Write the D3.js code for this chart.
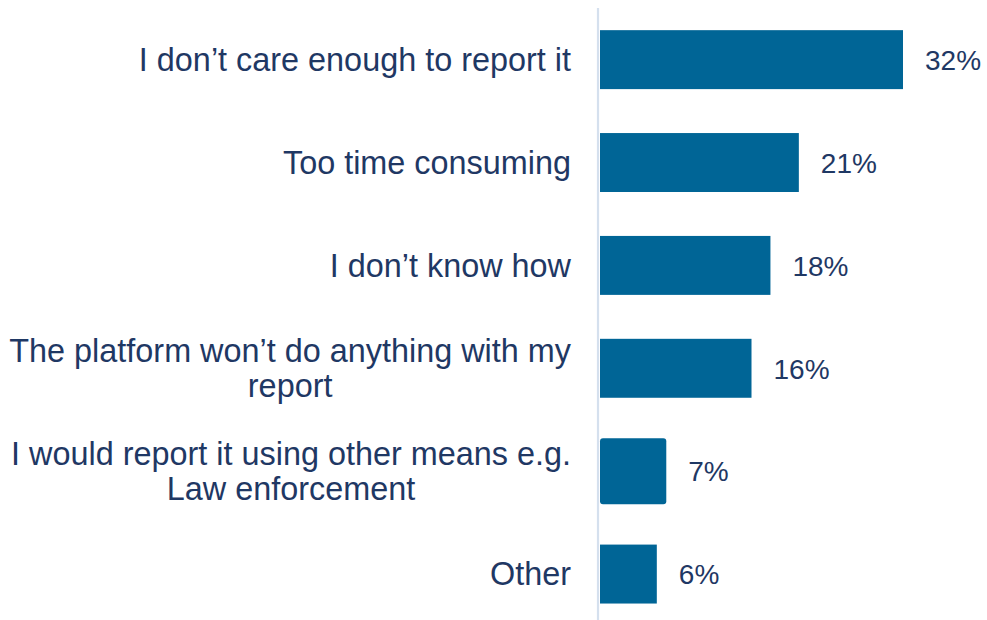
<!DOCTYPE html>
<html>
<head>
<meta charset="utf-8">
<script src="https://cdn.jsdelivr.net/npm/d3@7"></script>
<style>
  html, body { margin: 0; padding: 0; background: #ffffff; }
  svg { display: block; }
  text { font-family: "Liberation Sans", Arial, Helvetica, sans-serif; }
</style>
</head>
<body>
<svg id="chart" width="987" height="620"></svg>
<script>
// Reasons for not reporting (share of respondents, %)
const categories = [
  "I don\u2019t care enough to report it",
  "Too time consuming",
  "I don\u2019t know how",
  "The platform won\u2019t do anything with my report",
  "I would report it using other means e.g. Law enforcement",
  "Other"
];
const values = [32, 21, 18, 16, 7, 6];
const highlighted = ["I would report it using other means e.g. Law enforcement"];

const W = 987, H = 620;
const axisX = 598;          // vertical baseline of the bars
const labelRight = 571;     // right edge of category label blocks
const labelWrap = 572;      // max width of a category label line

const barColor = "#006596";
const textColor = "#1f3864";
const axisColor = "#d5e0ee";

const svg = d3.select("#chart");

const y = d3.scaleBand()
  .domain(categories)
  .range([8.2, 625.5])
  .paddingInner(0.427)
  .paddingOuter(0.2135);

const x = d3.scaleLinear()
  .domain([0, 32])
  .range([axisX + 2, axisX + 2 + 303]);

// bars
svg.append("g")
  .selectAll("rect")
  .data(categories)
  .join("rect")
  .attr("x", x(0))
  .attr("width", (d, i) => x(values[i]) - x(0))
  .attr("y", d => highlighted.includes(d) ? y(d) - 3.5 : y(d))
  .attr("height", d => highlighted.includes(d) ? y.bandwidth() + 7 : y.bandwidth())
  .attr("rx", d => highlighted.includes(d) ? 3 : 0)
  .attr("fill", barColor);

// vertical axis line
svg.append("line")
  .attr("x1", axisX).attr("x2", axisX)
  .attr("y1", 8).attr("y2", H)
  .attr("stroke", axisColor)
  .attr("stroke-width", 2.2);

// value labels
svg.append("g")
  .selectAll("text")
  .data(categories)
  .join("text")
  .attr("x", (d, i) => x(values[i]) + 22)
  .attr("y", d => y(d) + y.bandwidth() / 2 + 10.3)
  .attr("font-size", 28)
  .attr("fill", textColor)
  .text((d, i) => values[i] + "%");

// category labels: wrapped, lines centred within a right-aligned block
const labelG = svg.append("g");
const fs = 32.4, lineGap = 35.5;

categories.forEach(cat => {
  const t = labelG.append("text")
    .attr("font-size", fs)
    .attr("fill", textColor)
    .attr("text-anchor", "middle");

  // split into lines no wider than labelWrap
  const words = cat.split(" ");
  const lines = [];
  let cur = [];
  const probe = t.append("tspan");
  words.forEach(w => {
    const trial = cur.concat([w]).join(" ");
    probe.text(trial);
    if (probe.node().getComputedTextLength() > labelWrap && cur.length) {
      lines.push(cur.join(" "));
      cur = [w];
    } else {
      cur.push(w);
    }
  });
  lines.push(cur.join(" "));

  let maxW = 0;
  lines.forEach(l => {
    probe.text(l);
    maxW = Math.max(maxW, probe.node().getComputedTextLength());
  });
  probe.remove();

  const cx = labelRight - maxW / 2;
  const mid = y(cat) + y.bandwidth() / 2;
  const firstBase = mid - (lines.length - 1) * lineGap / 2 + 11.4;

  lines.forEach((l, k) => {
    t.append("tspan")
      .attr("x", cx)
      .attr("y", firstBase + k * lineGap)
      .text(l);
  });
});
</script>
</body>
</html>
